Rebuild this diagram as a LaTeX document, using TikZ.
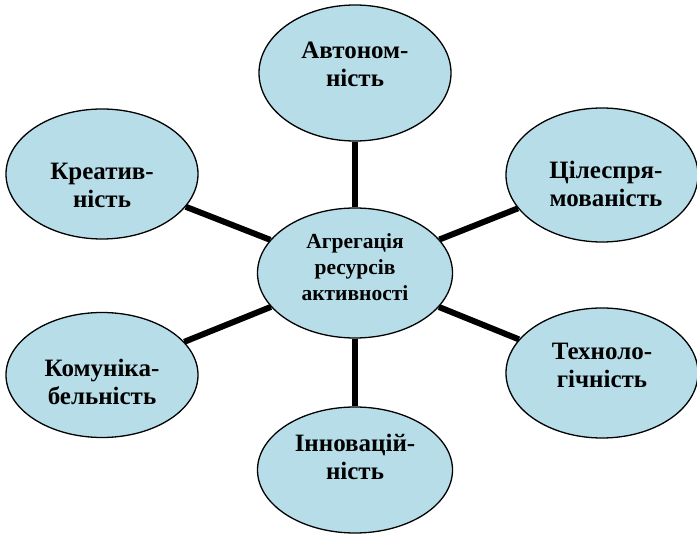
\documentclass[tikz,border=0pt]{standalone}
\usepackage{fontspec}
\setmainfont{Liberation Serif}
\usetikzlibrary{shapes.geometric,backgrounds}
\definecolor{bubble}{RGB}{183,222,232}
\begin{document}
\begin{tikzpicture}[x=1pt,y=-1pt,
  bub/.style={ellipse,draw=black,line width=1.3pt,fill=bubble,minimum width=192pt,minimum height=130pt,inner sep=0pt},
  txt/.style={font=\fontsize{25}{28}\selectfont\bfseries,align=center,text=black,inner sep=0pt},
  ctxt/.style={font=\fontsize{21.5}{26}\selectfont\bfseries,align=center,text=black,inner sep=0pt},
  link/.style={line width=6pt,draw=black}]
\useasboundingbox (0,0) rectangle (697,534);
\node[bub,minimum width=195pt] (c) at (355,273) {};
\node[ctxt,yshift=6pt] (ct) at (c.center) {Агрегація\\ресурсів\\активності};
\node[bub,minimum height=136pt] (t) at (355,73) {};
\node[txt,yshift=9pt] (tt) at (t.center) {Автоном-\\ність};
\node[bub] (lu) at (102,174) {};
\node[txt,yshift=-11pt] (lut) at (lu.center) {Креатив-\\ність};
\node[bub,minimum height=134pt] (ru) at (602,175) {};
\node[txt,yshift=-9pt,xshift=4pt] (rut) at (ru.center) {Цілеспря-\\мованість};
\node[bub,minimum height=125pt] (ll) at (102,375) {};
\node[txt,yshift=-7pt] (llt) at (ll.center) {Комуніка-\\бельність};
\node[bub] (rl) at (602,373) {};
\node[txt,yshift=8pt] (rlt) at (rl.center) {Техноло-\\гічність};
\node[bub,minimum width=195pt,minimum height=126pt] (b) at (355,470) {};
\node[txt,yshift=13pt] (bt) at (b.center) {Інновацій-\\ність};
\begin{scope}[on background layer]
\draw[link] (c) -- (t);
\draw[link] (c) -- (b);
\draw[link] (c) -- (lu);
\draw[link] (c) -- (ru);
\draw[link] (c) -- (ll);
\draw[link] (c) -- (rl);
\end{scope}
\end{tikzpicture}
\end{document}
